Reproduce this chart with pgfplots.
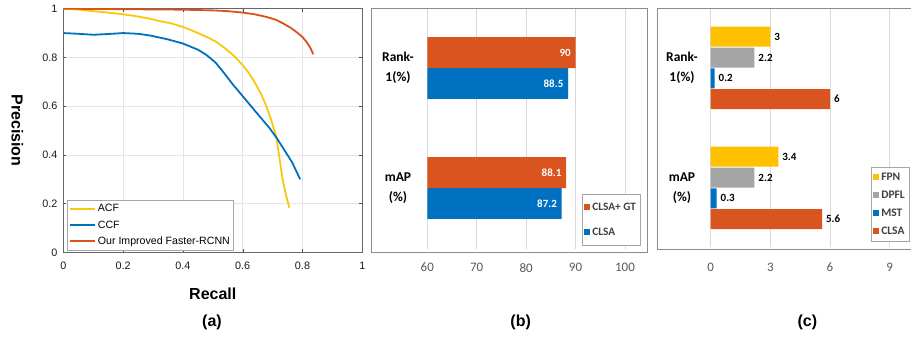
\documentclass[border=0pt]{standalone}
\usepackage{pgfplots}
\pgfplotsset{compat=1.18}
\usepackage{fontspec}
\setmainfont{Liberation Sans}
\newfontfamily\calfont{Carlito}

\definecolor{myyellow}{HTML}{F7C90E}
\definecolor{myblue}{HTML}{0072BD}
\definecolor{myorange}{HTML}{D95319}
\definecolor{xorange}{HTML}{D9541E}
\definecolor{xblue}{HTML}{0070C0}
\definecolor{xgray}{HTML}{A5A5A5}
\definecolor{xyellow}{HTML}{FFC000}
\definecolor{framegray}{HTML}{8C8C8C}
\definecolor{gridgray}{HTML}{D9D9D9}
\definecolor{ticktext}{HTML}{595959}
\definecolor{legtext}{HTML}{404040}

\begin{document}
\begin{tikzpicture}[x=1pt,y=1pt]
\useasboundingbox (0pt,0pt) rectangle (911pt,337pt);

% ---------------- (a) ----------------
\begin{axis}[
  at={(63.3pt,84.7pt)}, anchor=south west,
  width=299pt, height=243.6pt, scale only axis,
  xmin=0, xmax=1, ymin=0, ymax=1,
  xtick={0,0.2,0.4,0.6,0.8,1}, ytick={0,0.2,0.4,0.6,0.8,1},
  /pgf/number format/assume math mode=true,
  tick pos=both, ticklabel pos=left, tick align=inside,
  major tick length=3pt,
  every tick/.style={black!70, thin},
  axis line style={black!60, line width=0.6pt},
  grid=major, major grid style={black!10, line width=0.5pt},
  tick label style={font=\fontsize{10.8}{12}\selectfont, text=black!90},
  xticklabel style={yshift=-6.5pt},
  yticklabel style={xshift=-2.3pt},
  xlabel={Recall}, ylabel={Precision},
  xlabel style={font=\bfseries\fontsize{16}{19}\selectfont, at={(axis description cs:0.5,-0.1683)}, anchor=center},
  ylabel style={font=\bfseries\fontsize{16}{19}\selectfont, at={(axis description cs:-0.1538,0.5)}, anchor=center, rotate=180},
  legend style={at={(0.0134,0.0066)}, anchor=south west, draw=black!35, line width=0.6pt,
    font=\fontsize{10.6}{12}\selectfont, row sep=3.2pt, inner xsep=1.5pt, inner ysep=2.5pt},
  legend cell align=left,
  legend image code/.code={\draw[#1, line width=1.8pt] (0pt,0pt) -- (25pt,0pt);},
]
\addplot[myyellow, line width=1.8pt] coordinates {
(0,1) (0.05,0.996) (0.1,0.99) (0.15,0.984) (0.2,0.977) (0.25,0.968) (0.29,0.959)
(0.323,0.949) (0.36,0.94) (0.4,0.925) (0.424,0.914) (0.45,0.90) (0.48,0.884)
(0.51,0.865) (0.535,0.843) (0.569,0.809) (0.6,0.768) (0.62,0.737) (0.636,0.706)
(0.65,0.676) (0.663,0.645) (0.675,0.612) (0.686,0.576) (0.695,0.545) (0.702,0.515)
(0.709,0.49) (0.714,0.462) (0.719,0.42) (0.725,0.37) (0.732,0.31) (0.740,0.26)
(0.748,0.22) (0.756,0.183)
};
\addlegendentry{ACF}
\addplot[myblue, line width=1.8pt] coordinates {
(0,0.9) (0.05,0.897) (0.1,0.893) (0.15,0.896) (0.2,0.9) (0.25,0.897) (0.29,0.89)
(0.35,0.874) (0.4,0.857) (0.424,0.845) (0.45,0.832) (0.48,0.809) (0.51,0.778)
(0.535,0.740) (0.569,0.686) (0.6,0.641) (0.647,0.572) (0.691,0.508) (0.716,0.465)
(0.736,0.426) (0.765,0.37) (0.792,0.300)
};
\addlegendentry{CCF}
\addplot[myorange, line width=1.8pt] coordinates {
(0,1) (0.1,0.999) (0.2,0.998) (0.3,0.997) (0.4,0.996) (0.5,0.993) (0.55,0.99)
(0.6,0.984) (0.64,0.977) (0.68,0.966) (0.71,0.955) (0.736,0.939) (0.76,0.922)
(0.78,0.904) (0.8,0.884) (0.814,0.863) (0.826,0.84) (0.836,0.813)
};
\addlegendentry{Our Improved Faster-RCNN}
\end{axis}

% ---------------- (b) ----------------
\draw[framegray, line width=0.8pt] (371pt,85pt) rectangle (647pt,329pt);
\begin{axis}[
  at={(427.3pt,88pt)}, anchor=south west,
  width=197.7pt, height=240pt, scale only axis,
  xmin=60, xmax=100, ymin=-0.508, ymax=1.492,
  xtick={60,70,80,90,100}, ytick={0,1},
  yticklabels={{mAP\\[5pt](\%)},{Rank-\\[5pt]1(\%)}},
  /pgf/number format/assume math mode=true,
  axis line style={draw=none}, major tick length=0pt,
  xmajorgrids, major grid style={gridgray, line width=0.8pt},
  xbar, bar width=0.258,
  xticklabel style={font=\calfont\fontsize{13}{15}\selectfont, text=ticktext, yshift=-10.6pt},
  yticklabel style={font=\calfont\bfseries\fontsize{13.5}{15}\selectfont, text=black, align=center, anchor=center, xshift=-29.3pt},
  legend style={at={(0.7825,0.229)}, anchor=north west, draw=black!35, line width=0.6pt,
    font=\calfont\bfseries\fontsize{11.3}{13}\selectfont, text=legtext, row sep=12pt,
    inner xsep=2pt, inner ysep=6.5pt},
  legend cell align=left, reverse legend,
  legend image code/.code={\fill[#1] (0pt,-3pt) rectangle (6pt,3pt);},
]
\addplot[fill=xblue, draw=none, bar shift=-0.129, nodes near coords,
  every node near coord/.append style={anchor=east, xshift=-1.3pt, text=white, font=\calfont\bfseries\fontsize{11}{13}\selectfont}]
  coordinates {(87.2,0) (88.5,1)};
\addlegendentry{CLSA}
\addplot[fill=xorange, draw=none, bar shift=0.129, nodes near coords,
  every node near coord/.append style={anchor=east, xshift=-1.3pt, text=white, font=\calfont\bfseries\fontsize{11}{13}\selectfont}]
  coordinates {(88.1,0) (90,1)};
\addlegendentry{CLSA+ GT}
\end{axis}

% ---------------- (c) ----------------
\draw[framegray, line width=0.8pt] (657pt,329pt) -- (657pt,88pt) -- (915pt,88pt);
\draw[framegray, line width=0.8pt] (657pt,329pt) -- (915pt,329pt);
\begin{axis}[
  at={(710.7pt,90pt)}, anchor=south west,
  width=179pt, height=238pt, scale only axis,
  xmin=0, xmax=9, ymin=-0.493, ymax=1.49,
  xtick={0,3,6,9}, ytick={0,1},
  yticklabels={{mAP\\[5pt](\%)},{Rank-\\[5pt]1(\%)}},
  /pgf/number format/assume math mode=true,
  axis line style={draw=none}, major tick length=0pt,
  xmajorgrids, major grid style={gridgray, line width=0.8pt},
  xbar, bar width=0.1667,
  clip=false,
  xticklabel style={font=\calfont\fontsize{13}{15}\selectfont, text=ticktext, yshift=-12.6pt},
  yticklabel style={font=\calfont\bfseries\fontsize{13.5}{15}\selectfont, text=black, align=center, anchor=center, xshift=-28.7pt},
  legend style={at={(0.8955,0.336)}, anchor=north west, draw=black!35, line width=0.6pt,
    font=\calfont\bfseries\fontsize{11.5}{13}\selectfont, text=legtext, row sep=5pt,
    inner xsep=2pt, inner ysep=3.5pt},
  legend cell align=left, reverse legend,
  legend image code/.code={\fill[#1] (0pt,-3pt) rectangle (6pt,3pt);},
  every node near coord/.append style={anchor=west, xshift=0.5pt, text=black, font=\calfont\bfseries\fontsize{11}{13}\selectfont},
]
\addplot[fill=xorange, draw=none, bar shift=-0.26, nodes near coords,
  every node near coord/.append style={anchor=west}]
  coordinates {(5.6,0) (6,1)};
\addlegendentry{CLSA}
\addplot[fill=xblue, draw=none, bar shift=-0.0875, nodes near coords,
  every node near coord/.append style={anchor=west}]
  coordinates {(0.3,0) (0.2,1)};
\addlegendentry{MST}
\addplot[fill=xgray, draw=none, bar shift=0.084, nodes near coords,
  every node near coord/.append style={anchor=west}]
  coordinates {(2.2,0) (2.2,1)};
\addlegendentry{DPFL}
\addplot[fill=xyellow, draw=none, bar shift=0.259, nodes near coords,
  every node near coord/.append style={anchor=west}]
  coordinates {(3.4,0) (3,1)};
\addlegendentry{FPN}
\end{axis}

% captions
\node[font=\bfseries\fontsize{16}{19}\selectfont] at (212pt,14.3pt) {(a)};
\node[font=\bfseries\fontsize{16}{19}\selectfont] at (520.7pt,15pt) {(b)};
\node[font=\bfseries\fontsize{16}{19}\selectfont] at (807.3pt,15pt) {(c)};
\end{tikzpicture}
\end{document}
